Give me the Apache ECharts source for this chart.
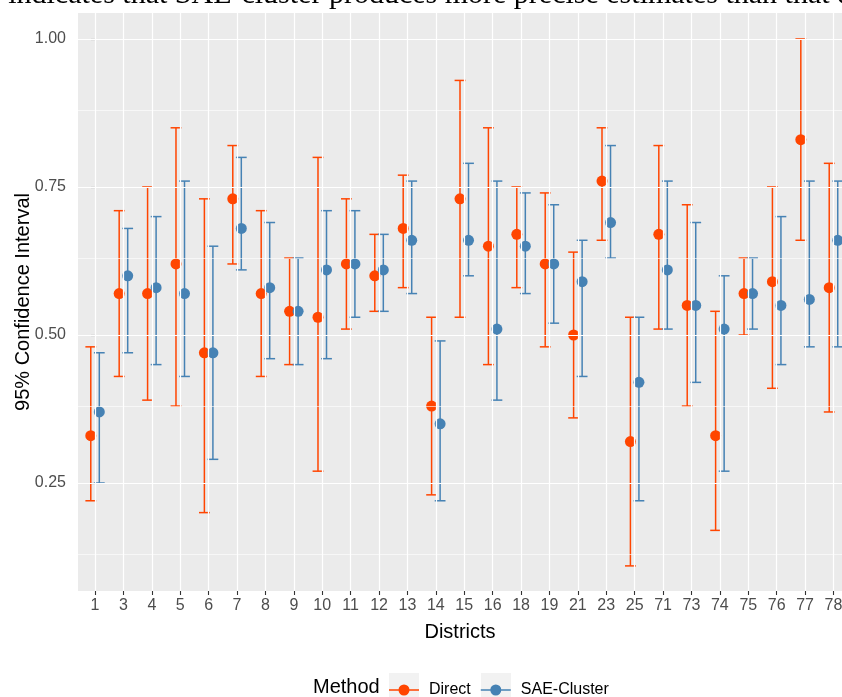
<!DOCTYPE html>
<html><head><meta charset="utf-8">
<script src="https://cdn.jsdelivr.net/npm/echarts@6/dist/echarts.min.js"></script>
<style>html,body{margin:0;padding:0;background:#fff;overflow:hidden}#c{width:842px;height:697px}</style>
</head><body><div id="c"></div>
<script>
const districts = ['1','3','4','5','6','7','8','9','10','11','12','13','14','15','16','18','19','21','23','25','71','73','74','75','76','77','78'];
const directEst = [0.33,0.57,0.57,0.62,0.47,0.73,0.57,0.54,0.53,0.62,0.60,0.68,0.38,0.73,0.65,0.67,0.62,0.50,0.76,0.32,0.67,0.55,0.33,0.57,0.59,0.83,0.58];
const directLow = [0.22,0.43,0.39,0.38,0.20,0.62,0.43,0.45,0.27,0.51,0.54,0.58,0.23,0.53,0.45,0.58,0.48,0.36,0.66,0.11,0.51,0.38,0.17,0.50,0.41,0.66,0.37];
const directUp  = [0.48,0.71,0.75,0.85,0.73,0.82,0.71,0.63,0.80,0.73,0.67,0.77,0.53,0.93,0.85,0.75,0.74,0.64,0.85,0.53,0.82,0.72,0.54,0.63,0.75,1.00,0.79];
const saeEst = [0.37,0.60,0.58,0.57,0.47,0.68,0.58,0.54,0.61,0.62,0.61,0.66,0.35,0.66,0.51,0.65,0.62,0.59,0.69,0.42,0.61,0.55,0.51,0.57,0.55,0.56,0.66];
const saeLow = [0.25,0.47,0.45,0.43,0.29,0.61,0.46,0.45,0.46,0.53,0.54,0.57,0.22,0.60,0.39,0.57,0.52,0.43,0.63,0.22,0.51,0.42,0.27,0.51,0.45,0.48,0.48];
const saeUp  = [0.47,0.68,0.70,0.76,0.65,0.80,0.69,0.63,0.71,0.71,0.67,0.76,0.49,0.79,0.76,0.74,0.72,0.66,0.82,0.53,0.76,0.69,0.60,0.63,0.70,0.76,0.76];
const yMajorTicks = [0.25,0.50,0.75,1.00];
const yMinorTicks = [0.125,0.375,0.625,0.875];
const seriesNames = ['Direct','SAE-Cluster'];
const captionText = 's indicates that SAE-cluster produces more precise estimates than that d';

const COL_DIRECT = '#FF4500', COL_SAE = '#4682B4';
const DODGE = 0.15, CAP = 0.19;
const idx = districts.map((d,i)=>i);

function errorBars(name, color, low, up, off){
  return {
    type:'custom', name, silent:true, z:3,
    itemStyle:{color},
    data: low.map((l,i)=>[i+off, l, up[i]]),
    encode:{x:0, y:[1,2]},
    renderItem(params, api){
      const x = api.value(0);
      const lo = api.coord([x, api.value(1)]);
      const hi = api.coord([x, api.value(2)]);
      const hw = api.size([CAP,0])[0];
      const st = {stroke:color, lineWidth:1.5, fill:null};
      return {type:'group', children:[
        {type:'line', shape:{x1:lo[0],y1:lo[1],x2:hi[0],y2:hi[1]}, style:st},
        {type:'line', shape:{x1:lo[0]-hw,y1:lo[1],x2:lo[0]+hw,y2:lo[1]}, style:st},
        {type:'line', shape:{x1:hi[0]-hw,y1:hi[1],x2:hi[0]+hw,y2:hi[1]}, style:st}
      ]};
    }
  };
}
function points(name, color, est, off){
  return {type:'scatter', name, z:4, symbol:'circle', symbolSize:11, silent:true,
    itemStyle:{color, opacity:1}, data: est.map((v,i)=>[i+off, v])};
}
const gridLines = [].concat(
  yMinorTicks.map(v=>({yAxis:v, lineStyle:{color:'#fff', width:0.6, type:'solid'}})),
  yMajorTicks.map(v=>({yAxis:v, lineStyle:{color:'#fff', width:1.2, type:'solid'}})),
  idx.map(v=>({xAxis:v, lineStyle:{color:'#fff', width:1.2, type:'solid'}}))
);
const legendIcon = 'path://M0,14.2H30V15.8H0Z M20.5,15A5.5,5.5,0,1,1,9.5,15A5.5,5.5,0,1,1,20.5,15Z';

const chart = echarts.init(document.getElementById('c'), null, {renderer:'canvas'});
chart.setOption({
  animation:false,
  backgroundColor:'#ffffff',
  textStyle:{fontFamily:'Liberation Sans, Arial, sans-serif'},
  grid:{left:78, right:0, top:13, bottom:106, show:true, backgroundColor:'#EBEBEB', borderWidth:0,
    containLabel:false, outerBoundsMode:'none'},
  xAxis:{type:'value', min:-0.6, max:26.3,
    name:'Districts', nameLocation:'middle', nameGap:31, nameMoveOverlap:false,
    nameTextStyle:{fontSize:20, color:'#000'},
    axisLine:{show:false},
    axisTick:{show:true, length:4, customValues:idx, lineStyle:{color:'#333', width:1.1}},
    axisLabel:{show:true, customValues:idx, fontSize:16, color:'#4D4D4D', margin:7, formatter:v=>districts[Math.round(v)]},
    splitLine:{show:false}},
  yAxis:{type:'value', min:0.0676, max:1.0439,
    name:'95% Confidence Interval', nameLocation:'middle', nameGap:45, nameMoveOverlap:false,
    nameTextStyle:{fontSize:20, color:'#000'},
    axisLine:{show:false},
    axisTick:{show:true, length:4, customValues:yMajorTicks, lineStyle:{color:'#333', width:1.1}},
    axisLabel:{show:true, customValues:yMajorTicks, fontSize:16, color:'#4D4D4D', margin:12, formatter:v=>v.toFixed(2)},
    splitLine:{show:false}},
  color:[COL_DIRECT, COL_SAE],
  legend:{show:true, data:seriesNames, left:389, top:682, orient:'horizontal', padding:0,
    itemWidth:30, itemHeight:16, itemGap:10, icon:legendIcon,
    textStyle:{fontSize:16, color:'#000', padding:[0,0,0,5]}, selectedMode:false},
  graphic:[
    {type:'text', left:-11, top:-20, style:{text:captionText, font:'30px "Liberation Serif", "Times New Roman", serif', fill:'#000'}},
    {type:'text', left:313, top:677, style:{text:'Method', font:'20px "Liberation Sans", Arial, sans-serif', fill:'#000'}},
    {type:'rect', left:389, top:673, shape:{width:30, height:30}, style:{fill:'#F2F2F2'}},
    {type:'rect', left:481, top:673, shape:{width:30, height:30}, style:{fill:'#F2F2F2'}}
  ],
  series:[
    {type:'scatter', name:'_grid', data:[], z:1, silent:true, itemStyle:{color:'#fff'},
      markLine:{silent:true, symbol:'none', label:{show:false}, animation:false, data:gridLines}},
    errorBars('Direct', COL_DIRECT, directLow, directUp, -DODGE),
    errorBars('SAE-Cluster', COL_SAE, saeLow, saeUp, DODGE),
    points('Direct', COL_DIRECT, directEst, -DODGE),
    points('SAE-Cluster', COL_SAE, saeEst, DODGE)
  ]
});
</script></body></html>
